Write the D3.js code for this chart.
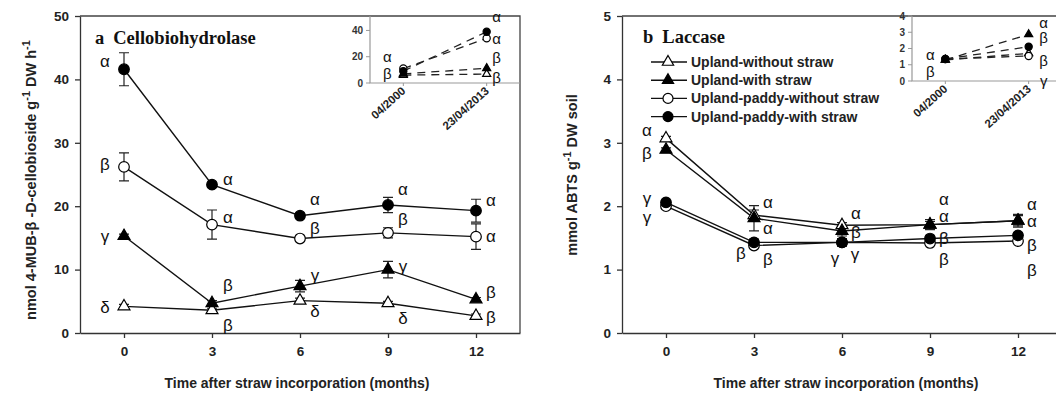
<!DOCTYPE html>
<html>
<head>
<meta charset="utf-8">
<script src="https://cdn.jsdelivr.net/npm/d3@7"></script>
<style>
body { margin: 0; background: #fff; }
svg { display: block; font-family: "Liberation Sans", Arial, sans-serif; }
</style>
</head>
<body>
<div id="chart"></div>
<script>
// months after straw incorporation
const months = [0, 3, 6, 9, 12];
const seriesNames = [
    'Upland-without straw',
    'Upland-with straw',
    'Upland-paddy-without straw',
    'Upland-paddy-with straw',
];
const insetDates = ['04/2000', '23/04/2013'];

// a  Cellobiohydrolase
const cbhTicks = [0, 10, 20, 30, 40, 50];
const cbhUplandNo = [4.2, 3.6, 5.1, 4.7, 2.7];
const cbhUplandStraw = [15.3, 4.7, 7.4, 10.0, 5.3];
const cbhPaddyNo = [26.2, 17.1, 14.9, 15.8, 15.2];
const cbhPaddyStraw = [41.6, 23.4, 18.5, 20.2, 19.3];
const cbhUplandNoErr = [0.3, 0.3, 0.4, 0.3, 0.3];
const cbhUplandStrawErr = [0.3, 0.4, 0.9, 1.3, 0.3];
const cbhPaddyNoErr = [2.2, 2.3, 0.4, 0.8, 2.0];
const cbhPaddyStrawErr = [2.6, 0.4, 0.4, 1.2, 1.8];
const cbhLetters = [
    ['δ', 'β', 'δ', 'δ', 'β'],
    ['γ', 'β', 'γ', 'γ', 'β'],
    ['β', 'α', 'β', 'β', 'α'],
    ['α', 'α', 'α', 'α', 'α'],
];
const cbhInsetTicks = [0, 20, 40];
const cbhInsetUplandNo = [6, 6.8];
const cbhInsetUplandStraw = [7, 11.2];
const cbhInsetPaddyNo = [11, 34];
const cbhInsetPaddyStraw = [9, 39];
const cbhInsetLetters = [['β', 'β'], ['', 'β'], ['α', 'α'], ['', 'α']];

// b  Laccase
const lacTicks = [0, 1, 2, 3, 4, 5];
const lacUplandNo = [3.07, 1.86, 1.70, 1.71, 1.77];
const lacUplandStraw = [2.89, 1.81, 1.61, 1.71, 1.77];
const lacPaddyNo = [2.00, 1.38, 1.43, 1.42, 1.45];
const lacPaddyStraw = [2.06, 1.43, 1.43, 1.49, 1.54];
const lacUplandNoErr = [0.03, 0.08, 0.04, 0.05, 0.08];
const lacUplandStrawErr = [0.03, 0.2, 0.08, 0.08, 0.1];
const lacPaddyNoErr = [0.03, 0.04, 0.06, 0.04, 0.03];
const lacPaddyStrawErr = [0.03, 0.05, 0.06, 0.04, 0.04];
const lacLetters = [
    ['α', 'α', 'α', 'α', 'α'],
    ['β', 'α', 'β', 'α', 'α'],
    ['γ', 'β', 'γ', 'β', 'β'],
    ['γ', 'β', 'γ', 'β', 'β'],
];
const lacInsetTicks = [0, 1, 2, 3, 4];
const lacInsetUplandNo = [1.3, 1.7];
const lacInsetUplandStraw = [1.3, 2.87];
const lacInsetPaddyNo = [1.35, 1.54];
const lacInsetPaddyStraw = [1.35, 2.11];
const lacInsetLetters = [['', 'γ'], ['β', 'α'], ['', 'β'], ['α', 'β']];

// marker look for each series, same order as seriesNames
const seriesStyle = [
    { shape: 'triangle', fill: '#fff' },
    { shape: 'triangle', fill: '#000' },
    { shape: 'circle', fill: '#fff' },
    { shape: 'circle', fill: '#000' },
];

// where the significance letters sit, [dx, dy] from their point
const cbhLetterOffsets = [
    [[-19, 1], [16, 15], [15, 11], [15, 15], [15, 2]],
    [[-19, 1], [16, -18], [15, -11], [15, -3], [15, -7]],
    [[-19, -2], [16, -7], [15, -10], [15, -13], [15, 0]],
    [[-19, -8], [16, -5], [15, -16], [15, -15], [15, -10]],
];
const lacLetterOffsets = [
    [[-19, -8], [14, -13], [14, -12], [14, -25], [14, -16]],
    [[-19, 4], [14, 10], [14, 2], [14, -8], [14, 1]],
    [[-19, 11], [14, 14], [13, 12], [14, 17], [14, 29]],
    [[-19, -4], [-13, 11], [-7, 16], [14, 0], [14, 10]],
];
const cbhInsetOffsets = [[[-16, -2], [10, 3]], [[0, 0], [10, -11]], [[-16, -12], [10, 0]], [[0, 0], [10, -15]]];
const lacInsetOffsets = [[[0, 0], [15, 27]], [[-15, 12], [15, -12]], [[0, 0], [15, 5]], [[-15, -5], [15, -9]]];

const svg = d3
    .select('#chart')
    .append('svg')
    .attr('width', 1056)
    .attr('height', 393);

function addMarker(sel, style, size) {
    if (style.shape === 'circle') {
        sel.append('circle')
            .attr('r', size)
            .attr('fill', style.fill)
            .attr('stroke', '#000')
            .attr('stroke-width', 1.2);
    } else {
        sel.append('path')
            .attr('d', d3.symbol(d3.symbolTriangle, size * size * 2.2)())
            .attr('fill', style.fill)
            .attr('stroke', '#000')
            .attr('stroke-width', 1.2);
    }
}

function drawPanel(p) {
    const g = svg.append('g');
    const x = d3.scaleLinear().domain([-1.5, 13.5]).range([p.left, p.right]);
    const y = d3.scaleLinear().domain(p.yDomain).range([p.bottom, p.top]);

    // frame top and right
    g.append('path')
        .attr('d', 'M' + p.left + ',' + p.top + 'H' + p.right + 'V' + p.bottom)
        .attr('fill', 'none')
        .attr('stroke', '#444')
        .attr('stroke-width', 1.3);

    const xAxis = g.append('g')
        .attr('transform', 'translate(0,' + p.bottom + ')')
        .call(d3.axisBottom(x).tickValues(months).tickSize(5).tickSizeOuter(0).tickPadding(8));
    const yAxis = g.append('g')
        .attr('transform', 'translate(' + p.left + ',0)')
        .call(d3.axisLeft(y).tickValues(p.yTicks).tickFormat(d3.format('d'))
            .tickSize(5).tickSizeOuter(0).tickPadding(6));
    [xAxis, yAxis].forEach(a => {
        a.selectAll('path, line').attr('stroke', '#333').attr('stroke-width', 1.3);
        a.selectAll('text')
            .attr('fill', '#222')
            .style('font-size', '13.5px')
            .style('font-weight', 'bold');
    });

    // title
    const t = g.append('text')
        .attr('x', p.titleX)
        .attr('y', p.titleY)
        .style('font-family', '"Liberation Serif", "Times New Roman", serif')
        .style('font-weight', 'bold')
        .style('font-size', '18.5px')
        .attr('fill', '#111');
    t.append('tspan').text(p.letter);
    t.append('tspan').attr('dx', 9).text(p.title);

    // axis titles
    g.append('text')
        .attr('x', p.xLabelX)
        .attr('y', 388)
        .attr('text-anchor', 'middle')
        .style('font-size', '14px')
        .style('font-weight', 'bold')
        .attr('fill', '#222')
        .text('Time after straw incorporation (months)');

    const yl = g.append('text')
        .attr('transform', 'translate(' + p.yLabelX + ',' + p.yLabelY + ') rotate(-90)')
        .attr('text-anchor', 'middle')
        .style('font-size', '14.5px')
        .style('font-weight', 'bold')
        .attr('fill', '#222');
    p.yLabel.forEach(part => {
        if (part.sup) {
            yl.append('tspan').attr('dy', -6).style('font-size', '11px').text(part.sup);
            yl.append('tspan').attr('dy', 6).text(part.after);
        } else {
            yl.append('tspan').text(part.text);
        }
    });

    const line = d3.line()
        .x((d, i) => x(months[i]))
        .y(d => y(d));

    p.series.forEach((vals, s) => {
        g.append('path')
            .datum(vals)
            .attr('d', line)
            .attr('fill', 'none')
            .attr('stroke', '#111')
            .attr('stroke-width', 1.4);
    });

    // error bars
    p.series.forEach((vals, s) => {
        vals.forEach((v, i) => {
            const e = p.errors[s][i];
            const cx = x(months[i]);
            g.append('path')
                .attr('d', 'M' + cx + ',' + y(v - e) + 'V' + y(v + e) +
                    'M' + (cx - 5) + ',' + y(v - e) + 'H' + (cx + 5) +
                    'M' + (cx - 5) + ',' + y(v + e) + 'H' + (cx + 5))
                .attr('stroke', '#222')
                .attr('stroke-width', 1.2)
                .attr('fill', 'none');
        });
    });

    p.series.forEach((vals, s) => {
        vals.forEach((v, i) => {
            const m = g.append('g')
                .attr('transform', 'translate(' + x(months[i]) + ',' + y(v) + ')');
            addMarker(m, seriesStyle[s], 5.3);
        });
    });

    // significance letters
    p.series.forEach((vals, s) => {
        vals.forEach((v, i) => {
            const off = p.letterOffsets[s][i];
            g.append('text')
                .attr('x', x(months[i]) + off[0])
                .attr('y', y(v) + off[1])
                .attr('text-anchor', 'middle')
                .attr('dominant-baseline', 'central')
                .style('font-size', '17px')
                .attr('fill', '#111')
                .text(p.letters[s][i]);
        });
    });

    drawInset(g, p.inset);
}

function drawInset(g, q) {
    const x = d3.scalePoint().domain(insetDates).range([q.left, q.right]).padding(0.4);
    const y = d3.scaleLinear().domain(q.yDomain).range([q.bottom, q.top]);

    g.append('path')
        .attr('d', 'M' + q.left + ',' + q.top + 'V' + q.bottom + 'H' + q.right)
        .attr('fill', 'none')
        .attr('stroke', '#999')
        .attr('stroke-width', 1.2);

    q.yTicks.forEach(t => {
        g.append('line')
            .attr('x1', q.left - 4).attr('x2', q.left)
            .attr('y1', y(t)).attr('y2', y(t))
            .attr('stroke', '#999');
        g.append('text')
            .attr('x', q.left - 7)
            .attr('y', y(t))
            .attr('text-anchor', 'end')
            .attr('dominant-baseline', 'central')
            .style('font-size', '10px')
            .style('font-weight', 'bold')
            .attr('fill', '#333')
            .text(t);
    });
    insetDates.forEach(d => {
        g.append('line')
            .attr('x1', x(d)).attr('x2', x(d))
            .attr('y1', q.bottom).attr('y2', q.bottom + 3)
            .attr('stroke', '#999');
        g.append('text')
            .attr('transform', 'translate(' + (x(d) + 3) + ',' + (q.bottom + 9) + ') rotate(-42)')
            .attr('text-anchor', 'end')
            .style('font-size', '11.5px')
            .style('font-weight', 'bold')
            .attr('fill', '#222')
            .text(d);
    });

    const line = d3.line()
        .x((d, i) => x(insetDates[i]))
        .y(d => y(d));
    q.series.forEach(vals => {
        g.append('path')
            .datum(vals)
            .attr('d', line)
            .attr('fill', 'none')
            .attr('stroke', '#222')
            .attr('stroke-width', 1.3)
            .attr('stroke-dasharray', '8,6');
    });
    q.series.forEach((vals, s) => {
        vals.forEach((v, i) => {
            const m = g.append('g')
                .attr('transform', 'translate(' + x(insetDates[i]) + ',' + y(v) + ')');
            addMarker(m, seriesStyle[s], 3.6);
        });
    });
    q.series.forEach((vals, s) => {
        vals.forEach((v, i) => {
            const off = q.letterOffsets[s][i];
            g.append('text')
                .attr('x', x(insetDates[i]) + off[0])
                .attr('y', y(v) + off[1])
                .attr('text-anchor', 'middle')
                .attr('dominant-baseline', 'central')
                .style('font-size', '15px')
                .attr('fill', '#111')
                .text(q.letters[s][i]);
        });
    });
}

drawPanel({
    letter: 'a',
    title: 'Cellobiohydrolase',
    titleX: 95, titleY: 44,
    left: 80, right: 520, top: 16, bottom: 333,
    yDomain: [0, 50], yTicks: cbhTicks,
    xLabelX: 297,
    yLabelX: 36, yLabelY: 180,
    yLabel: [
        { text: 'nmol 4-MUB-β -D-cellobioside g' },
        { sup: '-1', after: ' DW h' },
        { sup: '-1', after: '' },
    ],
    series: [cbhUplandNo, cbhUplandStraw, cbhPaddyNo, cbhPaddyStraw],
    errors: [cbhUplandNoErr, cbhUplandStrawErr, cbhPaddyNoErr, cbhPaddyStrawErr],
    letters: cbhLetters,
    letterOffsets: cbhLetterOffsets,
    inset: {
        left: 370, right: 520, top: 16, bottom: 83,
        yDomain: [0, 51], yTicks: cbhInsetTicks,
        series: [cbhInsetUplandNo, cbhInsetUplandStraw, cbhInsetPaddyNo, cbhInsetPaddyStraw],
        letters: cbhInsetLetters,
        letterOffsets: cbhInsetOffsets,
    },
});

drawPanel({
    letter: 'b',
    title: 'Laccase',
    titleX: 643, titleY: 43,
    left: 622, right: 1062, top: 16, bottom: 333,
    yDomain: [0, 5], yTicks: lacTicks,
    xLabelX: 846,
    yLabelX: 577, yLabelY: 175,
    yLabel: [
        { text: 'mmol ABTS g' },
        { sup: '-1', after: ' DW soil' },
    ],
    series: [lacUplandNo, lacUplandStraw, lacPaddyNo, lacPaddyStraw],
    errors: [lacUplandNoErr, lacUplandStrawErr, lacPaddyNoErr, lacPaddyStrawErr],
    letters: lacLetters,
    letterOffsets: lacLetterOffsets,
    inset: {
        left: 912, right: 1062, top: 16, bottom: 81,
        yDomain: [0, 4], yTicks: lacInsetTicks,
        series: [lacInsetUplandNo, lacInsetUplandStraw, lacInsetPaddyNo, lacInsetPaddyStraw],
        letters: lacInsetLetters,
        letterOffsets: lacInsetOffsets,
    },
});

// legend in panel b
const legend = svg.append('g').attr('transform', 'translate(651,62)');
seriesNames.forEach((name, i) => {
    const row = legend.append('g').attr('transform', 'translate(0,' + i * 18.2 + ')');
    row.append('line')
        .attr('x1', 0).attr('x2', 36)
        .attr('stroke', '#111')
        .attr('stroke-width', 1.4);
    const m = row.append('g').attr('transform', 'translate(17,0)');
    addMarker(m, seriesStyle[i], 5);
    row.append('text')
        .attr('x', 40)
        .attr('y', 0)
        .attr('dominant-baseline', 'central')
        .style('font-size', '14px')
        .style('font-weight', 'bold')
        .attr('fill', '#222')
        .text(name);
});
</script>
</body>
</html>
